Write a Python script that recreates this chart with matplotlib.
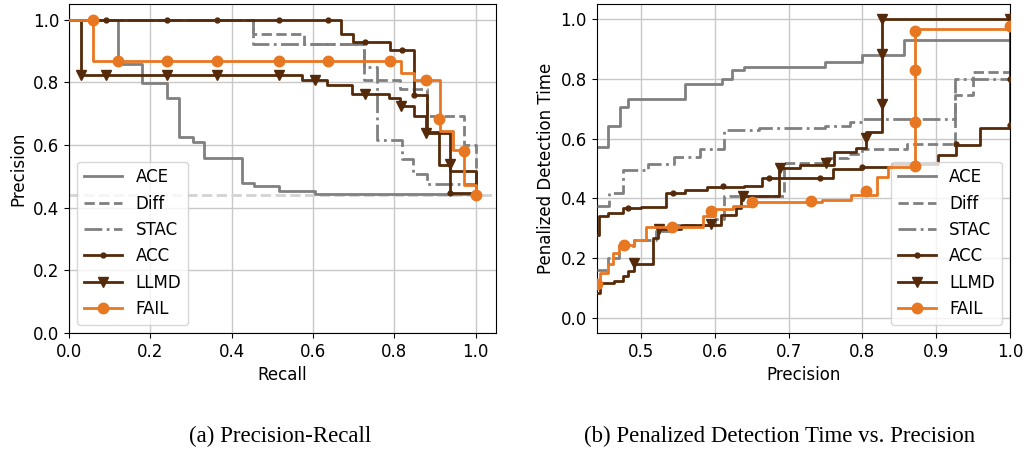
import numpy as np
import matplotlib
matplotlib.use("Agg")
import matplotlib.pyplot as plt
from matplotlib.lines import Line2D

GRAY = '#808080'
BROWN = '#552a0a'
ORANGE = '#e87722'

#### (a) precision-recall, steps-post (value holds from x_i to x_{i+1})
ace_rec = [0, 0.121, 0.179, 0.242, 0.271, 0.304, 0.333, 0.425, 0.454, 0.516, 0.606, 1.0]
ace_prec = [1.0, 0.859, 0.798, 0.749, 0.627, 0.611, 0.558, 0.479, 0.470, 0.452, 0.442, 0.442]

diff_rec = [0, 0.452, 0.577, 0.725, 0.815, 0.881, 0.971, 1.0]
diff_prec = [1.0, 0.954, 0.923, 0.806, 0.779, 0.694, 0.599, 0.44]

stac_rec = [0, 0.452, 0.725, 0.758, 0.819, 0.845, 0.881, 1.0]
stac_prec = [1.0, 0.923, 0.85, 0.615, 0.556, 0.509, 0.477, 0.44]

acc_rec = [0, 0.669, 0.698, 0.789, 0.848, 0.881, 0.910, 0.938, 1.0]
acc_prec = [1.0, 0.954, 0.928, 0.903, 0.760, 0.64, 0.535, 0.447, 0.44]
acc_mrec = [0.09, 0.242, 0.364, 0.516, 0.637, 0.727, 0.819, 0.848, 0.938]
acc_mprec = [1.0, 1.0, 1.0, 1.0, 1.0, 0.928, 0.903, 0.760, 0.447]

llmd_rec = [0, 0.03, 0.573, 0.635, 0.696, 0.787, 0.815, 0.848, 0.879, 0.938, 1.0]
llmd_prec = [1.0, 0.822, 0.806, 0.792, 0.763, 0.749, 0.723, 0.694, 0.638, 0.516, 0.44]
llmd_mrec = [0.03, 0.09, 0.242, 0.364, 0.516, 0.606, 0.727, 0.817, 0.879, 0.938]
llmd_mprec = [0.822, 0.822, 0.822, 0.822, 0.822, 0.806, 0.763, 0.723, 0.638, 0.54]

fail_rec = [0, 0.058, 0.817, 0.848, 0.912, 0.943, 0.971, 1.0]
fail_prec = [1.0, 0.869, 0.829, 0.806, 0.646, 0.583, 0.471, 0.44]
fail_mrec = [0.058, 0.121, 0.242, 0.364, 0.516, 0.637, 0.789, 0.879, 0.910, 0.971, 1.0]
fail_mprec = [1.0, 0.869, 0.869, 0.869, 0.869, 0.869, 0.869, 0.806, 0.682, 0.581, 0.44]

baseline = 0.44

#### (b) penalized detection time vs precision
ace_p = [0.44, 0.455, 0.471, 0.482, 0.560, 0.610, 0.624, 0.640, 0.749, 0.800, 0.857, 1.0]
ace_t = [0.573, 0.642, 0.706, 0.734, 0.784, 0.798, 0.828, 0.839, 0.856, 0.881, 0.930, 0.930]

diff_p = [0.44, 0.455, 0.47, 0.49, 0.52, 0.545, 0.60, 0.613, 0.694, 0.751, 0.78, 0.80, 0.86, 0.925, 0.95, 1.0]
diff_t = [0.16, 0.2, 0.24, 0.26, 0.29, 0.31, 0.33, 0.407, 0.518, 0.534, 0.55, 0.565, 0.582, 0.745, 0.822, 0.822]

stac_p = [0.44, 0.457, 0.475, 0.51, 0.545, 0.58, 0.613, 0.66, 0.75, 0.783, 0.80, 0.925, 1.0]
stac_t = [0.373, 0.418, 0.496, 0.515, 0.54, 0.565, 0.629, 0.636, 0.642, 0.655, 0.667, 0.798, 0.798]

acc_p = [0.44, 0.443, 0.455, 0.475, 0.50, 0.534, 0.56, 0.59, 0.64, 0.664, 0.76, 0.80, 0.84, 0.902, 0.927, 0.959, 1.0, 1.0]
acc_t = [0.279, 0.34, 0.35, 0.368, 0.372, 0.418, 0.427, 0.437, 0.442, 0.468, 0.498, 0.506, 0.516, 0.545, 0.579, 0.635, 0.798, 1.0]
acc_mp = [0.483, 0.544, 0.611, 0.673, 0.743, 0.799, 0.927, 1.0, 1.0]
acc_mt = [0.368, 0.418, 0.44, 0.468, 0.468, 0.506, 0.582, 0.645, 0.798]

llmd_p = [0.44, 0.445, 0.464, 0.475, 0.482, 0.49, 0.516, 0.523, 0.554, 0.609, 0.629, 0.636, 0.687, 0.715, 0.762, 0.792, 0.805, 0.826, 1.0]
llmd_t = [0.085, 0.116, 0.125, 0.14, 0.157, 0.182, 0.268, 0.296, 0.31, 0.346, 0.368, 0.407, 0.501, 0.512, 0.556, 0.568, 0.623, 1.0, 1.0]
llmd_mp = [0.491, 0.525, 0.595, 0.638, 0.688, 0.751, 0.805, 0.826, 0.826, 0.826, 1.0]
llmd_mt = [0.185, 0.296, 0.313, 0.407, 0.50, 0.52, 0.601, 0.717, 0.884, 1.0, 1.0]

fail_p = [0.44, 0.445, 0.455, 0.462, 0.47, 0.49, 0.507, 0.584, 0.60, 0.625, 0.65, 0.745, 0.785, 0.82, 0.835, 0.871, 1.0]
fail_t = [0.107, 0.15, 0.18, 0.218, 0.243, 0.26, 0.305, 0.34, 0.365, 0.375, 0.387, 0.395, 0.41, 0.47, 0.505, 0.965, 0.978]
fail_mp = [0.441, 0.477, 0.542, 0.595, 0.651, 0.731, 0.805, 0.871, 0.871, 0.871, 0.871, 1.0]
fail_mt = [0.113, 0.243, 0.305, 0.357, 0.387, 0.39, 0.426, 0.509, 0.656, 0.828, 0.961, 0.978]

labels = ['ACE', 'Diff', 'STAC', 'ACC', 'LLMD', 'FAIL']
colors = [GRAY, GRAY, GRAY, BROWN, BROWN, ORANGE]
styles = ['-', '--', '-.', '-', '-', '-']
markers = [None, None, None, 'o', 'v', 'o']
msizes = [0, 0, 0, 3.5, 7, 7.5]
LW = 2

plt.rcParams['font.size'] = 12

fig = plt.figure(figsize=(10.27, 4.49), dpi=100)
ax1 = fig.add_axes([0.0672, 0.2584, 0.4158, 0.7327])
ax2 = fig.add_axes([0.581, 0.2584, 0.4024, 0.7327])


def draw(ax, curves, marks):
    for i, (x, y) in enumerate(curves):
        ax.plot(x, y, drawstyle='steps-post', color=colors[i], ls=styles[i], lw=LW, zorder=2 + i)
        if marks[i] is not None:
            ax.plot(marks[i][0], marks[i][1], ls='none', marker=markers[i], color=colors[i],
                    ms=msizes[i], zorder=2 + i)
    ax.grid(True, color='#c8c8c8', lw=1)
    ax.set_axisbelow(True)


draw(ax1,
     [(ace_rec, ace_prec), (diff_rec, diff_prec), (stac_rec, stac_prec),
      (acc_rec, acc_prec), (llmd_rec, llmd_prec), (fail_rec, fail_prec)],
     [None, None, None, (acc_mrec, acc_mprec), (llmd_mrec, llmd_mprec), (fail_mrec, fail_mprec)])
ax1.axhline(baseline, color='#d3d3d3', ls='--', lw=LW, zorder=1)
ax1.set_xlim(0, 1.05)
ax1.set_ylim(0, 1.05)
ax1.set_xticks(np.arange(0, 1.01, 0.2))
ax1.set_yticks(np.arange(0, 1.01, 0.2))
ax1.set_xlabel('Recall')
ax1.set_ylabel('Precision')

draw(ax2,
     [(ace_p, ace_t), (diff_p, diff_t), (stac_p, stac_t),
      (acc_p, acc_t), (llmd_p, llmd_t), (fail_p, fail_t)],
     [None, None, None, (acc_mp, acc_mt), (llmd_mp, llmd_mt), (fail_mp, fail_mt)])
ax2.set_xlim(0.44, 1.0)
ax2.set_ylim(-0.05, 1.05)
ax2.set_xticks(np.arange(0.5, 1.01, 0.1))
ax2.set_yticks(np.arange(0, 1.01, 0.2))
ax2.set_xlabel('Precision')
ax2.set_ylabel('Penalized Detection Time')

handles = [Line2D([], [], color=colors[i], ls=styles[i], lw=LW, marker=markers[i],
                  ms=msizes[i]) for i in range(6)]
ax1.legend(handles, labels, loc='lower left', fontsize=12, handlelength=2.3)
ax2.legend(handles, labels, loc='lower right', fontsize=12, handlelength=2.3)

fig.text(0.273, 0.029, '(a) Precision-Recall', ha='center', va='center',
         family='Liberation Serif', fontsize=16.5)
fig.text(0.759, 0.029, '(b) Penalized Detection Time vs. Precision', ha='center', va='center',
         family='Liberation Serif', fontsize=16.5)

fig.savefig('out.png', dpi=100)
